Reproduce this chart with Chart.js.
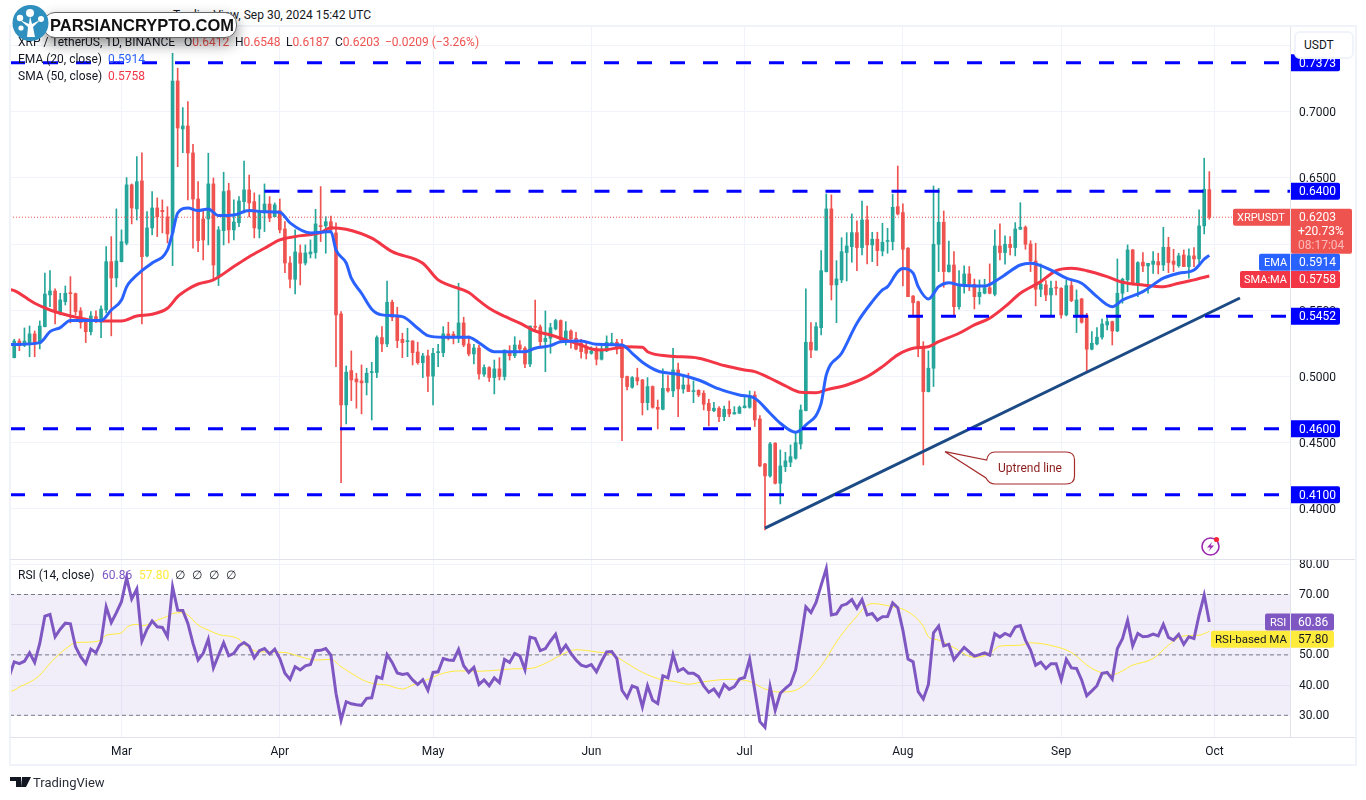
<!DOCTYPE html>
<html>
<head>
<meta charset="utf-8">
<title>XRPUSDT</title>
<script src="https://cdn.jsdelivr.net/npm/chart.js@4/dist/chart.umd.min.js"></script>
<style>
body { margin: 0; background: #fff; font-family: Roboto, sans-serif; color: #131722; }
#page { position: relative; width: 1366px; height: 800px; overflow: hidden; }
canvas { position: absolute; left: 10px; }
#frame { position: absolute; left: 9px; top: 25px; width: 1344px; height: 737px; border: 2px solid #f0f3fa; }
.rule { position: absolute; left: 10px; width: 1345px; height: 1px; background: #e0e3eb; }
.txt { position: absolute; font-size: 12px; line-height: 16px; white-space: nowrap; }
#usdt { position: absolute; left: 1294px; top: 31px; height: 24px; width: 48px; background: #fff; border: 2px solid #f0f3fa; border-radius: 6px; font-size: 12px; line-height: 24px; padding-left: 8px; }
#pill { position: absolute; left: 43px; top: 12px; width: 192px; height: 24px; background: #fff; border: 1px solid #666; border-radius: 12px; box-shadow: 0 6px 14px rgba(0,0,0,.45); font: bold 16.5px "Liberation Sans", sans-serif; line-height: 25px; color: #111; text-indent: 6px; }
svg { position: absolute; overflow: visible; }
</style>
</head>
<body>
<div id="page">
  <canvas id="priceChart"></canvas>
  <canvas id="rsiChart"></canvas>
  <div id="frame"></div>
  <div class="rule" style="top:559px"></div>
  <div class="rule" style="top:737px"></div>

  <div class="txt" style="left:173px;top:7px">TradingView, Sep 30, 2024 15:42 UTC</div>
  <div class="txt" style="left:18px;top:34px">XRP / TetherUS, 1D, BINANCE</div>
  <div class="txt" style="left:184px;top:34px">O<span style="color:#ef5350">0.6412</span></div>
  <div class="txt" style="left:235px;top:34px">H<span style="color:#ef5350">0.6548</span></div>
  <div class="txt" style="left:286px;top:34px">L<span style="color:#ef5350">0.6187</span></div>
  <div class="txt" style="left:335px;top:34px">C<span style="color:#ef5350">0.6203</span></div>
  <div class="txt" style="left:385px;top:34px;color:#ef5350">−0.0209 (−3.26%)</div>
  <div class="txt" style="left:18px;top:51px">EMA (20, close)</div>
  <div class="txt" style="left:108px;top:51px;color:#2962ff">0.5914</div>
  <div class="txt" style="left:18px;top:68px">SMA (50, close)</div>
  <div class="txt" style="left:108px;top:68px;color:#f23645">0.5758</div>
  <div class="txt" style="left:18px;top:567px">RSI (14, close)</div>
  <div class="txt" style="left:102px;top:567px;color:#7e57c2">60.86</div>
  <div class="txt" style="left:139px;top:567px;color:#ffeb3b">57.80</div>
  <div class="txt" style="left:175px;top:567px;word-spacing:4px">∅ ∅ ∅ ∅</div>

  <div id="usdt">USDT</div>

  <div id="pill">PARSIANCRYPTO.COM</div>
  <svg style="left:0;top:0" width="60" height="50">
    <circle cx="30.5" cy="23" r="18" fill="#2f8fbf"/>
    <path d="M27 37 L28 27 L20 20 L29 24 L30 16 L32 24 L40 20 L33 27 L35 37 Z" fill="#fff"/>
    <circle cx="30" cy="13" r="4" fill="#fff"/>
    <circle cx="20" cy="18" r="3.2" fill="#fff"/>
    <circle cx="41" cy="19" r="3" fill="#fff"/>
    <circle cx="21" cy="28" r="2.6" fill="#fff"/>
  </svg>

  <svg style="left:0;top:0" width="1366" height="800">
    <path d="M945 451.7 L986.7 460 Q988 452 995 452 L1066 452 Q1074.5 452 1074.5 460 L1074.5 476 Q1074.5 484 1066 484 L995 484 Q989 484 986 478 Z" fill="#fff" stroke="#a52a2a" stroke-width="1.2"/>
    <text x="1030" y="472" font-family="Roboto" font-size="12" fill="#8b1a1a" text-anchor="middle">Uptrend line</text>
    <circle cx="1210.5" cy="546.5" r="8.5" fill="none" stroke="#9c27b0" stroke-width="1.6"/>
    <path d="M1212.5 541.5 L1207 547.5 L1210.5 547.5 L1208.5 551.5 L1214 545.5 L1210.5 545.5 Z" fill="#9c27b0"/>
    <circle cx="1216.5" cy="539.5" r="2.6" fill="#f7263d"/>
    <path d="M10 777 H21 V787 H16 V781 H10 Z M22 777 H31 L26 787 H21 Z" fill="#131722"/>
  </svg>
  <div class="txt" style="left:33px;top:775px;font-size:13px;color:#2a2e39">TradingView</div>
</div>

<script>
const opens = [
  .5139,.5265,.5233,.5246,.5319,.5248,.5374,.5614,.5644,.5483,
  .5563,.5629,.5624,.5493,.5425,.5336,.5450,.5420,.5500,.5866,
  .5743,.5866,.6006,.6448,.6266,.6478,.5910,.6122,.6273,.6255,
  .6205,.6084,.7235,.6872,.6894,.6690,.6341,.6190,.6190,.6455,
  .5753,.6101,.6404,.6107,.6162,.6321,.6410,.6321,.6114,.6235,
  .6303,.6207,.6253,.6114,.5856,.5733,.5932,.5856,.5925,.5935,
  .6139,.6137,.6169,.6084,.5470,.4781,.5041,.4978,.4963,.4950,
  .5026,.5026,.5291,.5243,.5559,.5450,.5278,.5260,.5265,.5182,
  .5101,.5152,.4999,.5177,.5177,.5319,.5316,.5298,.5402,.5243,
  .5167,.5212,.5014,.5064,.4988,.5054,.4996,.5187,.5154,.5235,
  .5210,.5091,.5374,.5372,.5260,.5286,.5357,.5420,.5265,.5341,
  .5286,.5248,.5210,.5172,.5205,.5127,.5190,.5243,.5256,.5210,
  .4996,.4915,.4988,.4970,.4798,.4920,.4763,.4748,.4907,.4887,
  .5046,.4902,.4932,.4882,.4892,.4870,.4793,.4738,.4756,.4692,
  .4748,.4713,.4718,.4760,.4763,.4856,.4675,.4334,.4243,.4491,
  .4187,.4313,.4347,.4377,.4485,.4738,.5256,.5197,.5366,.5791,
  .6266,.5690,.5728,.5935,.5980,.6086,.5973,.6182,.5993,.6036,
  .5947,.6019,.6018,.6283,.6238,.5968,.5606,.5563,.5218,.4882,
  .5059,.5998,.6165,.5791,.5841,.5525,.5682,.5773,.5695,.5601,
  .5627,.5669,.5619,.5985,.5935,.5998,.5973,.6112,.6127,.6000,
  .5871,.5657,.5690,.5614,.5669,.5665,.5463,.5685,.5450,.5584,
  .5457,.5203,.5243,.5294,.5387,.5412,.5341,.5627,.5728,.5955,
  .5695,.5862,.5834,.5846,.5866,.5841,.5975,.5871,.5836,.5917,
  .5829,.5910,.5887,.6137,.6412
];
const closes = [
  .5265,.5230,.5265,.5319,.5243,.5379,.5621,.5644,.5488,.5576,
  .5627,.5624,.5488,.5404,.5336,.5455,.5417,.5508,.5866,.5743,
  .5871,.6018,.6448,.6273,.6472,.5904,.6122,.6273,.6205,.6245,
  .6076,.7235,.6879,.6894,.6690,.6341,.6025,.6031,.6455,.5841,
  .6107,.6397,.6107,.6167,.6326,.6410,.6311,.6122,.6253,.6303,
  .6197,.6296,.6107,.5856,.5733,.5940,.5854,.5932,.5940,.6152,
  .6132,.6169,.6107,.5463,.4781,.5029,.4970,.4955,.4948,.5021,
  .5031,.5291,.5243,.5559,.5445,.5268,.5253,.5265,.5177,.5101,
  .5152,.4999,.5172,.5182,.5319,.5286,.5298,.5402,.5235,.5167,
  .5212,.5016,.5064,.4988,.5054,.4996,.5197,.5154,.5235,.5205,
  .5091,.5379,.5369,.5260,.5286,.5366,.5420,.5273,.5341,.5281,
  .5205,.5184,.5172,.5190,.5127,.5205,.5256,.5253,.5205,.4988,
  .4920,.4988,.4963,.4798,.4920,.4763,.4748,.4907,.4887,.5046,
  .4902,.4932,.4882,.4887,.4857,.4786,.4738,.4756,.4692,.4748,
  .4713,.4723,.4763,.4773,.4851,.4667,.4319,.4243,.4485,.4187,
  .4319,.4357,.4389,.4495,.4743,.5256,.5197,.5374,.5798,.6266,
  .5690,.5735,.5942,.5985,.6086,.5973,.6182,.5993,.6036,.5950,
  .6013,.6025,.6278,.6228,.5960,.5601,.5556,.5222,.4882,.5059,
  .5998,.6165,.5791,.5841,.5525,.5690,.5773,.5695,.5601,.5634,
  .5669,.5627,.5985,.5935,.5998,.5973,.6114,.6127,.5998,.5871,
  .5657,.5695,.5614,.5665,.5665,.5463,.5685,.5571,.5576,.5407,
  .5203,.5248,.5294,.5394,.5412,.5341,.5627,.5733,.5955,.5697,
  .5859,.5834,.5854,.5871,.5841,.5975,.5859,.5846,.5910,.5829,
  .5910,.5887,.6137,.6415,.6203
];
const highs = [
  .5278,.5281,.5364,.5379,.5341,.5417,.5780,.5798,.5660,.5627,
  .5682,.5753,.5629,.5518,.5438,.5488,.5493,.5531,.5980,.6056,
  .6266,.6107,.6503,.6455,.6662,.6690,.6245,.6397,.6349,.6334,
  .6283,.7445,.7332,.7033,.7079,.6756,.6472,.6258,.6688,.6500,
  .6132,.6544,.6460,.6334,.6359,.6629,.6523,.6387,.6372,.6455,
  .6359,.6311,.6341,.6169,.5904,.6107,.5993,.5993,.6031,.6263,
  .6435,.6207,.6212,.6160,.5488,.5076,.5190,.5021,.5084,.5059,
  .5104,.5304,.5374,.5720,.5576,.5521,.5324,.5362,.5268,.5256,
  .5172,.5197,.5210,.5240,.5374,.5407,.5336,.5703,.5445,.5304,
  .5240,.5235,.5084,.5071,.5121,.5139,.5197,.5230,.5298,.5268,
  .5222,.5379,.5576,.5387,.5493,.5400,.5430,.5425,.5412,.5349,
  .5331,.5278,.5260,.5222,.5222,.5248,.5304,.5324,.5278,.5278,
  .5000,.4996,.5059,.4975,.4988,.4925,.4818,.5054,.5003,.5210,
  .5097,.5003,.5021,.4963,.4895,.4889,.4824,.4801,.4768,.4773,
  .4811,.4768,.4773,.4851,.4887,.4882,.4700,.4338,.4498,.4495,
  .4440,.4422,.4478,.4578,.4781,.5660,.5404,.5404,.5950,.6379,
  .6372,.5874,.6048,.6086,.6228,.6175,.6326,.6288,.6089,.6089,
  .6157,.6119,.6377,.6591,.6304,.5972,.5610,.5567,.5260,.5190,
  .6440,.6422,.6250,.6023,.5942,.5798,.5834,.5829,.5735,.5728,
  .5733,.5849,.6107,.6152,.6061,.6056,.6162,.6313,.6137,.6025,
  .6006,.5849,.5722,.5720,.5720,.5669,.5728,.5722,.5652,.5589,
  .5475,.5336,.5367,.5432,.5437,.5416,.5887,.5741,.5993,.5960,
  .5866,.5935,.5854,.5942,.5930,.6127,.6051,.5960,.5930,.5955,
  .5963,.5973,.6258,.6650,.6548
];
const lows = [
  .5137,.5192,.5222,.5146,.5146,.5205,.5372,.5525,.5394,.5463,
  .5538,.5402,.5463,.5362,.5253,.5311,.5404,.5291,.5478,.5304,
  .5675,.5864,.5993,.6152,.6182,.5394,.5902,.6069,.6056,.6084,
  .6008,.5836,.6586,.6692,.6334,.5968,.5942,.5879,.5993,.5728,
  .5685,.5993,.6008,.6031,.6132,.6235,.6205,.6046,.6046,.6094,
  .6169,.6205,.6084,.5783,.5667,.5622,.5690,.5841,.5894,.5892,
  .6018,.5930,.6084,.5071,.4192,.4637,.4813,.4756,.4713,.4856,
  .4667,.4988,.5184,.5222,.5420,.5215,.5139,.5146,.5084,.5089,
  .4988,.4882,.4781,.5071,.5146,.5273,.5243,.5253,.5222,.5152,
  .5092,.4976,.4996,.4958,.4864,.4970,.4970,.5121,.5139,.5184,
  .5063,.5071,.5336,.5222,.5033,.5172,.5349,.5260,.5235,.5210,
  .5197,.5135,.5129,.5165,.5084,.5121,.5184,.5243,.5167,.4510,
  .4895,.4907,.4932,.4705,.4743,.4756,.4599,.4743,.4877,.4844,
  .4692,.4870,.4882,.4798,.4844,.4743,.4622,.4730,.4654,.4662,
  .4692,.4710,.4715,.4757,.4756,.4617,.4313,.3834,.4233,.4182,
  .4031,.4276,.4313,.4369,.4447,.4735,.5139,.5194,.5311,.5788,
  .5576,.5404,.5707,.5720,.5862,.5798,.5917,.5849,.5866,.5836,
  .5910,.5930,.5955,.6220,.5682,.5601,.5450,.5146,.4326,.4879,
  .4920,.5791,.5672,.5786,.5457,.5506,.5627,.5647,.5508,.5544,
  .5622,.5622,.5607,.5879,.5847,.5917,.5910,.6110,.5960,.5791,
  .5531,.5601,.5571,.5455,.5614,.5438,.5455,.5563,.5329,.5400,
  .5033,.5197,.5235,.5279,.5349,.5235,.5336,.5551,.5639,.5690,
  .5601,.5791,.5627,.5778,.5773,.5798,.5783,.5791,.5824,.5829,
  .5741,.5829,.5854,.6076,.6187
];

// EMA and SMA at these days (0 = Feb 9, -1 is the cut-off day at the left edge)
const emaDays = [-1,0,5,7,9,11,14,17,19,21,22,23,25,27,30,31,32,34,36,38,40,43,46,49,52,54,58,62,63,65,66,68,70,72,76,79,81,84,89,91,94,100,102,105,107,111,114,119,121,123,126,130,134,138,142,145,148,150,153,155,158,159,162,165,168,170,171,173,174,176,177,179,181,183,185,190,193,197,199,203,206,209,212,215,217,221,225,228,231,233,234];
const emaValues = [.5237,.5239,.5253,.5336,.5367,.5420,.5420,.5420,.5500,.5576,.5675,.5728,.5798,.5856,.5955,.6084,.6235,.6273,.6253,.6266,.6215,.6220,.6253,.6245,.6241,.6160,.6084,.6094,.5955,.5856,.5741,.5627,.5506,.5463,.5450,.5362,.5306,.5294,.5294,.5252,.5184,.5184,.5210,.5230,.5260,.5265,.5240,.5235,.5172,.5104,.5038,.5013,.4970,.4902,.4856,.4831,.4718,.4642,.4574,.4629,.4794,.5008,.5172,.5400,.5563,.5652,.5677,.5791,.5814,.5779,.5677,.5584,.5677,.5707,.5690,.5682,.5741,.5841,.5854,.5803,.5741,.5703,.5601,.5525,.5576,.5639,.5741,.5779,.5803,.5885,.5914];
const smaDays = [-1,0,4,7,9,11,14,17,21,24,27,30,32,34,36,39,43,46,49,52,55,60,62,65,70,74,80,83,85,89,91,93,95,99,102,105,108,111,113,115,120,123,124,128,134,139,143,145,148,151,154,157,159,163,167,170,173,176,179,181,185,188,191,194,197,201,204,207,210,214,217,221,225,228,231,234];
const smaValues = [.5655,.5647,.5551,.5500,.5475,.5455,.5430,.5417,.5417,.5455,.5468,.5513,.5601,.5657,.5697,.5728,.5829,.5904,.5968,.6031,.6056,.6086,.6124,.6112,.6044,.5942,.5854,.5728,.5690,.5632,.5571,.5513,.5470,.5400,.5341,.5311,.5273,.5235,.5205,.5197,.5222,.5218,.5184,.5152,.5135,.5079,.5046,.5033,.4983,.4925,.4877,.4874,.4895,.4932,.4995,.5071,.5160,.5210,.5222,.5260,.5324,.5387,.5438,.5525,.5627,.5715,.5798,.5816,.5798,.5753,.5710,.5690,.5677,.5703,.5728,.5758];

// first RSI value belongs to day -1
const rsiValues = [
  42.8,
  47.7,47.1,47.9,50.7,47.5,53.8,62.8,63.4,56.0,58.5,
  60.5,60.3,52.7,49.4,47.1,51.9,50.7,54.3,65.9,60.7,
  64.0,67.6,75.5,68.5,71.8,54.6,58.5,61.2,59.3,59.1,
  56.0,72.5,64.8,64.7,60.4,53.8,48.3,50.5,55.2,45.7,
  49.9,54.0,49.7,50.5,53.0,54.1,52.9,49.0,51.4,52.1,
  50.3,51.9,48.8,43.9,41.9,46.1,45.0,46.4,46.8,51.4,
  51.5,52.1,49.9,37.3,28.4,34.5,33.8,33.5,33.3,35.6,
  35.8,42.8,42.2,50.1,47.5,44.0,43.5,43.8,41.7,40.2,
  41.8,38.3,44.2,44.4,48.8,48.3,48.2,51.8,46.4,44.2,
  45.9,40.2,41.7,39.8,42.4,40.8,48.5,47.5,50.5,49.7,
  45.1,55.9,55.4,51.4,52.1,54.6,56.8,51.0,53.2,50.5,
  48.3,46.6,46.1,46.8,44.4,47.9,51.0,51.1,48.8,38.3,
  35.8,39.7,39.1,32.8,39.8,35.0,33.9,43.1,42.4,50.1,
  44.6,45.5,43.9,43.9,42.8,39.7,37.6,38.7,36.4,40.2,
  38.6,39.5,42.0,42.5,48.6,38.3,27.9,26.0,39.5,31.7,
  37.3,38.9,40.3,45.0,54.9,65.9,64.0,67.4,73.1,78.6,
  63.2,63.6,66.3,66.9,68.3,65.4,68.3,63.2,63.7,61.5,
  62.6,62.7,67.2,65.6,58.2,48.6,47.7,37.8,35.4,40.2,
  57.3,59.5,53.0,53.5,48.4,50.5,52.5,51.0,49.6,50.1,
  50.7,49.9,57.0,55.9,57.1,56.3,59.2,59.7,54.9,51.6,
  46.6,47.6,45.5,47.1,47.1,41.7,48.5,45.7,45.5,41.7,
  36.5,38.1,39.8,43.9,44.2,42.0,52.1,55.4,61.4,53.0,
  57.1,56.0,56.2,56.9,56.3,60.1,55.8,54.9,56.8,53.5,
  56.0,55.4,63.2,69.8,60.86
];
const rsiMaDays = [-1,0,1,3,5,7,8,11,12,14,17,18,21,22,24,25,28,30,31,33,34,36,38,40,44,45,47,49,53,56,59,62,64,66,68,70,73,76,78,81,84,87,91,95,98,101,104,107,110,114,117,120,123,127,129,132,135,140,144,147,150,153,158,161,164,168,171,175,178,179,181,184,188,191,193,197,199,204,207,211,215,219,223,226,229,232,234];
const rsiMaValues = [37.8,38.3,39.4,40.9,43.3,47.2,49.0,53.2,54.1,54.2,54.9,56.5,57.3,59.1,60.1,59.6,61.5,62.8,63.7,64.0,63.2,59.9,58.2,56.8,55.2,53.5,51.4,51.0,50.8,49.4,48.3,48.5,46.1,43.9,41.9,40.6,40.0,38.7,40.0,41.9,43.9,44.7,44.6,45.0,45.4,45.5,47.2,49.9,51.7,51.0,50.1,47.2,44.2,41.7,41.3,40.3,41.1,41.9,41.2,38.7,37.7,38.3,46.3,54.3,60.9,67.0,66.3,64.3,59.5,56.0,54.9,52.4,49.2,50.4,52.9,53.2,54.0,52.7,50.8,45.5,43.5,46.6,48.8,53.2,56.3,56.5,57.8];

const levelPrices = [0.7373, 0.64, 0.5452, 0.46, 0.41];
const levelStartDays = [null, 49, 175, null, null];
const trendDays = [147, 240];
const trendPrices = [0.3848, 0.5591];
const lastPrice = 0.6203;
const rsiBands = [70, 50, 30];

const monthDays = [21, 52, 82, 113, 143, 174, 205, 235];
const monthLabels = ['Mar', 'Apr', 'May', 'Jun', 'Jul', 'Aug', 'Sep', 'Oct'];
const priceTicks = [0.40, 0.45, 0.50, 0.55, 0.60, 0.65, 0.70, 0.75];
const rsiTicks = [30, 40, 50, 60, 70, 80];

// plot width is fixed, so the day range sets the 5.1px candle spacing
const dayMin = -0.83;
const dayMax = 249.8;
const UP = '#26a69a';
const DOWN = '#ef5350';
const GRID = '#f0f3fa';

Chart.defaults.font.family = 'Roboto';
Chart.defaults.font.size = 12;
Chart.defaults.color = '#131722';

function zip(xs, ys) {
    return xs.map((x, i) => ({ x: x, y: ys[i] }));
}

function flatLine(value, color, width, dash, order, startDay) {
    return {
        type: 'line',
        data: [{ x: startDay == null ? dayMin : startDay, y: value }, { x: dayMax, y: value }],
        borderColor: color,
        borderWidth: width,
        borderDash: dash,
        pointRadius: 0,
        order: order
    };
}

function curve(xs, ys, color, width, order) {
    return {
        type: 'line',
        data: zip(xs, ys),
        borderColor: color,
        borderWidth: width,
        cubicInterpolationMode: 'monotone',
        pointRadius: 0,
        order: order
    };
}

function fitAxis(size) {
    return scale => {
        if (scale.isHorizontal()) {
            scale.height = size;
        } else {
            scale.width = size;
        }
        scale.paddingTop = 0;
        scale.paddingBottom = 0;
        scale.paddingLeft = 0;
        scale.paddingRight = 0;
    };
}

function drawTag(ctx, left, right, center, fill, text, textColor, textX, radius, size) {
    ctx.fillStyle = fill;
    ctx.beginPath();
    ctx.roundRect(left, center - 8.5, right - left, 17, radius);
    ctx.fill();
    ctx.fillStyle = textColor;
    ctx.font = (size || 12) + 'px Roboto';
    ctx.textBaseline = 'middle';
    ctx.textAlign = 'left';
    ctx.fillText(text, textX, center + 1);
}

// value tags on the price axis
const priceTags = {
    id: 'priceTags',
    afterDraw(chart) {
        const ctx = chart.ctx;
        const axis = chart.chartArea.right;
        const y = chart.scales.y;
        const white = '#ffffff';
        ctx.save();
        levelPrices.forEach(p => {
            drawTag(ctx, axis + 1, axis + 50, y.getPixelForValue(p), '#0000ff', p.toFixed(4), white, axis + 9, [0, 2, 2, 0]);
        });
        const mid = y.getPixelForValue(lastPrice);
        drawTag(ctx, axis - 57, axis, mid, DOWN, 'XRPUSDT', white, axis - 53, [2, 0, 0, 2], 11);
        ctx.fillStyle = DOWN;
        ctx.beginPath();
        ctx.roundRect(axis + 1, mid - 8.5, 61, 45, [0, 2, 2, 2]);
        ctx.fill();
        ctx.font = '12px Roboto';
        ctx.fillStyle = white;
        ctx.fillText(lastPrice.toFixed(4), axis + 9, mid + 1);
        ctx.fillText('+20.73%', axis + 8, mid + 15);
        ctx.fillStyle = 'rgba(255,255,255,0.6)';
        ctx.fillText('08:17:04', axis + 8, mid + 29);
        // these two sit just below their value, pushed down to avoid overlap
        const emaLast = emaValues[emaValues.length - 1];
        const smaLast = smaValues[smaValues.length - 1];
        const emaY = y.getPixelForValue(emaLast) + 7;
        const smaY = y.getPixelForValue(smaLast) + 3.5;
        drawTag(ctx, axis - 31, axis, emaY, '#2962ff', 'EMA', white, axis - 26, [2, 0, 0, 2], 11);
        drawTag(ctx, axis + 1, axis + 50, emaY, '#2962ff', emaLast.toFixed(4), white, axis + 9, [0, 2, 2, 0]);
        drawTag(ctx, axis - 50, axis, smaY, '#f23645', 'SMA:MA', white, axis - 46, [2, 0, 0, 2], 11);
        drawTag(ctx, axis + 1, axis + 50, smaY, '#f23645', smaLast.toFixed(4), white, axis + 9, [0, 2, 2, 0]);
        ctx.restore();
    }
};

const rsiTags = {
    id: 'rsiTags',
    afterDraw(chart) {
        const ctx = chart.ctx;
        const axis = chart.chartArea.right;
        const y = chart.scales.y;
        const rsiLast = rsiValues[rsiValues.length - 1];
        const maLast = rsiMaValues[rsiMaValues.length - 1];
        const rsiY = y.getPixelForValue(rsiLast);
        const maY = y.getPixelForValue(maLast) + 8;
        ctx.save();
        drawTag(ctx, axis - 25, axis, rsiY, '#7e57c2', 'RSI', '#ffffff', axis - 20, [2, 0, 0, 2], 11);
        drawTag(ctx, axis + 1, axis + 44, rsiY, '#7e57c2', rsiLast.toFixed(2), '#ffffff', axis + 8, [0, 2, 2, 0]);
        drawTag(ctx, axis - 79, axis, maY, '#ffeb3b', 'RSI-based MA', '#131722', axis - 75, [2, 0, 0, 2], 11.5);
        drawTag(ctx, axis + 1, axis + 44, maY, '#ffeb3b', maLast.toFixed(2), '#131722', axis + 8, [0, 2, 2, 0]);
        ctx.restore();
    }
};

function timeScale(showLabels, size) {
    return {
        type: 'linear',
        min: dayMin,
        max: dayMax,
        offset: false,
        afterBuildTicks: scale => {
            scale.ticks = monthDays.map(d => ({ value: d }));
        },
        afterFit: fitAxis(size),
        border: { display: false },
        grid: { color: GRID, drawTicks: false, offset: false },
        ticks: {
            display: showLabels,
            autoSkip: false,
            maxRotation: 0,
            padding: 8,
            callback: v => monthLabels[monthDays.indexOf(v)]
        }
    };
}

function valueScale(min, max, tickValues, digits, labelShift) {
    return {
        position: 'right',
        min: min,
        max: max,
        afterBuildTicks: scale => {
            scale.ticks = tickValues.map(v => ({ value: v }));
        },
        afterFit: fitAxis(65),
        border: { color: '#e0e3eb' },
        grid: { color: GRID, drawTicks: false },
        ticks: {
            padding: 9,
            labelOffset: labelShift,
            callback: v => v.toFixed(digits)
        }
    };
}

const baseOptions = {
    responsive: false,
    animation: false,
    events: [],
    layout: { padding: 0 },
    plugins: { legend: { display: false }, tooltip: { enabled: false } }
};

function setupCanvas(id, top, height) {
    const canvas = document.getElementById(id);
    canvas.width = 1345;
    canvas.height = height;
    canvas.style.top = top + 'px';
    return canvas;
}

const candleColors = closes.map((c, i) => (c >= opens[i] ? UP : DOWN));

new Chart(setupCanvas('priceChart', 27, 532), {
    data: {
        datasets: [
            {
                type: 'bar',
                data: closes.map((c, i) => ({ x: i, y: [lows[i], highs[i]] })),
                backgroundColor: candleColors,
                barThickness: 1,
                grouped: false,
                order: 6
            },
            {
                type: 'bar',
                data: closes.map((c, i) => ({ x: i, y: [opens[i], c] })),
                backgroundColor: candleColors,
                barThickness: 3,
                minBarLength: 1,
                grouped: false,
                order: 5
            },
            flatLine(lastPrice, DOWN, 1, [1, 2], 4),
            curve(smaDays, smaValues, '#f23645', 3, 3),
            curve(emaDays, emaValues, '#2962ff', 3, 2),
            {
                type: 'line',
                data: zip(trendDays, trendPrices),
                borderColor: '#1c4a85',
                borderWidth: 3,
                pointRadius: 0,
                order: 1
            }
        ].concat(levelPrices.map((p, i) => flatLine(p, '#0000ff', 3, [15, 18], 0, levelStartDays[i])))
    },
    options: Object.assign({}, baseOptions, {
        scales: {
            x: timeScale(false, 0),
            y: valueScale(0.36137, 0.76439, priceTicks, 4, 1.5)
        }
    }),
    plugins: [priceTags]
});

const bandLines = rsiBands.map(v => flatLine(v, '#787b86', 1, [4, 3], 5));
bandLines[0].fill = { target: { value: 30 }, above: 'rgba(126,87,194,0.1)', below: 'rgba(126,87,194,0.1)' };

new Chart(setupCanvas('rsiChart', 560, 205), {
    data: {
        datasets: bandLines.concat([
            curve(rsiMaDays, rsiMaValues, '#ffeb3b', 1, 2),
            Object.assign(curve(rsiValues.map((v, i) => i - 1), rsiValues, '#7e57c2', 3, 1), { cubicInterpolationMode: 'default' })
        ])
    },
    options: Object.assign({}, baseOptions, {
        scales: {
            x: timeScale(true, 28),
            y: valueScale(22.81, 81.42, rsiTicks, 2, 0.5)
        }
    }),
    plugins: [rsiTags]
});
</script>
</body>
</html>
